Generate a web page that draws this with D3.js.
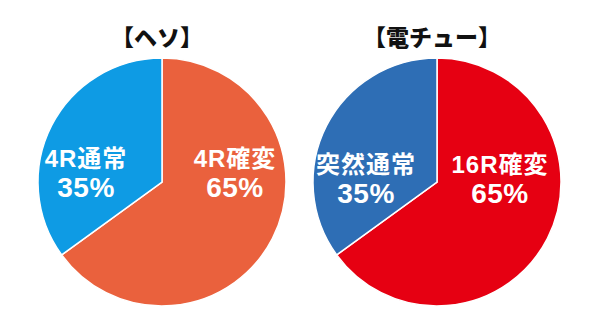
<!DOCTYPE html>
<html><head><meta charset="utf-8">
<script src="https://cdn.jsdelivr.net/npm/d3@7"></script>
<style>
html,body{margin:0;padding:0;background:#fff;}
text{font-family:"Liberation Sans","Noto Sans CJK JP",sans-serif;font-weight:bold;}
</style></head><body>
<svg id="c" width="592" height="328"></svg>
<script>
const titles = ["【ヘソ】", "【電チュー】"];
const hesoLabels = ["4R確変", "4R通常"];
const hesoValues = [65, 35];
const hesoColors = ["#EA613D", "#0E9BE4"];
const denLabels = ["16R確変", "突然通常"];
const denValues = [65, 35];
const denColors = ["#E60012", "#2E6EB5"];

const charts = [
  {title: titles[0], labels: hesoLabels, values: hesoValues, colors: hesoColors, cx: 162, cy: 182,
   offR: 73, offL: -76, y1: -15, y2: 15},
  {title: titles[1], labels: denLabels, values: denValues, colors: denColors, cx: 437, cy: 182,
   offR: 63, offL: -71, y1: -9, y2: 21}
];
const R = 124;
const svg = d3.select("#c");
const pie = d3.pie().sort(null).value(d => d.v);
const arc = d3.arc().innerRadius(0).outerRadius(R);

charts.forEach((ch, ci) => {
  const g = svg.append("g").attr("transform", `translate(${ch.cx},${ch.cy})`);
  const data = ch.values.map((v, i) => ({v, label: ch.labels[i], color: ch.colors[i]}));
  const arcs = pie(data);
  g.selectAll("path").data(arcs).join("path")
    .attr("d", arc)
    .attr("fill", d => d.data.color)
    .attr("stroke", "#fff").attr("stroke-width", 1.5);
  svg.append("text")
    .attr("x", ch.cx - 5).attr("y", 46)
    .attr("text-anchor", "middle")
    .attr("font-size", 23).style("font-weight", 900)
    .attr("fill", "#111")
    .text(ch.title);
  arcs.forEach(a => {
    const mid = (a.startAngle + a.endAngle) / 2;
    const x = mid < Math.PI ? ch.offR : ch.offL;
    const t = g.append("text").attr("text-anchor", "middle").attr("fill", "#fff");
    t.append("tspan").attr("x", x).attr("y", ch.y1)
      .attr("font-size", 24).attr("letter-spacing", 1).text(a.data.label);
    t.append("tspan").attr("x", x).attr("y", ch.y2)
      .attr("font-size", 28).attr("letter-spacing", 0.5).text(a.data.v + "%");
  });
});
</script></body></html>
